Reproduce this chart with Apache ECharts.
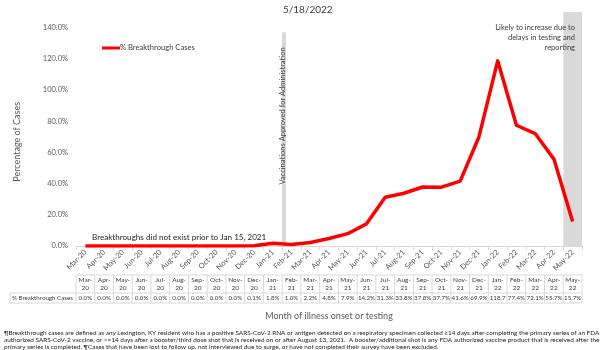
<!DOCTYPE html>
<html>
<head>
<meta charset="utf-8">
<script src="https://cdn.jsdelivr.net/npm/echarts@6/dist/echarts.min.js"></script>
<style>
  html, body { margin: 0; padding: 0; background: #ffffff; }
  #chart { width: 600px; height: 350px; }
</style>
</head>
<body>
<div id="chart"></div>
<script>
// Month of illness onset or testing
const months = [
  'Mar-20', 'Apr-20', 'May-20', 'Jun-20', 'Jul-20', 'Aug-20', 'Sep-20', 'Oct-20', 'Nov-20', 'Dec-20',
  'Jan-21', 'Feb-21', 'Mar-21', 'Apr-21', 'May-21', 'Jun-21', 'Jul-21', 'Aug-21', 'Sep-21', 'Oct-21',
  'Nov-21', 'Dec-21', 'Jan-22', 'Feb-22', 'Mar-22', 'Apr-22', 'May-22'
];

// % of cases that were breakthrough cases, by month
const breakthroughPct = [
  0.0, 0.0, 0.0, 0.0, 0.0, 0.0, 0.0, 0.0, 0.0, 0.1,
  1.8, 1.0, 2.2, 4.8, 7.9, 14.2, 31.3, 33.8, 37.8, 37.7,
  41.6, 69.9, 118.7, 77.4, 72.1, 55.7, 15.7
];

// Y axis ticks (percent)
const yTickStep = 20;
const yTickMax = 140;

// Shaded markers, in month-index units along the time axis
const vaccineApprovalMark = 11.1;          // vaccines approved for administration
const vaccineMarkTop = 137;                // height of the grey bar (percent scale)
const reportingLagBand = [26, 27];         // most recent month, still incomplete
const reportingLagTop = 150;

const seriesName = '% Breakthrough Cases';
const xAxisTitle = 'Month of illness onset or testing';
const yAxisTitle = 'Percentage of Cases';
const subtitle = '5/18/2022';
const preVaccineNote = 'Breakthroughs did not exist prior to Jan 15, 2021';
const lagNote = 'Likely to increase due to\ndelays in testing and\nreporting';
const vaccineNote = 'Vaccinations Approved for Administration';
const footnote = [
  '\u00b6Breakthrough cases are defined as any Lexington, KY resident who has a positive SARS-CoV-2 RNA or antigen detected on a respiratory specimen collected \u226514 days after completing the primary series of an FDA-',
  'authorized SARS-CoV-2 vaccine, or >=14 days after a booster/third dose shot that is received on or after August 13, 2021.  A booster/additional shot is any FDA authorized vaccine product that is received after the',
  'primary series is completed. \u00b6Cases that have been lost to follow up, not interviewed due to surge, or have not completed their survey have been excluded.'
];

const FONT = 'Lato, "Liberation Sans", sans-serif';
const GREY_TEXT = '#595959';
const DARK_TEXT = '#404040';
const BAND = '#d9d9d9';

const chart = echarts.init(document.getElementById('chart'), null, { renderer: 'canvas' });

chart.setOption({
  animation: false,
  backgroundColor: '#ffffff',
  textStyle: { fontFamily: FONT },
  grid: { left: 76, right: 18, top: 12, bottom: 104, containLabel: false },
  legend: {
    show: true,
    left: 97,
    top: 39,
    icon: 'rect',
    itemWidth: 18,
    itemHeight: 3,
    itemGap: 2,
    textStyle: { fontFamily: FONT, fontSize: 7.6, color: DARK_TEXT, padding: [0, 0, 0, -5] },
    data: [seriesName]
  },
  xAxis: [
    {
      type: 'category',
      data: months,
      boundaryGap: true,
      axisLine: { show: true, lineStyle: { color: BAND, width: 1 } },
      axisTick: { show: true, interval: 0, length: 4, lineStyle: { color: BAND } },
      axisLabel: {
        interval: 0, rotate: 45, fontSize: 7.5, color: GREY_TEXT, margin: 5, fontFamily: FONT
      },
      splitLine: { show: false }
    },
    {
      type: 'value',
      min: 0,
      max: months.length,
      show: false
    }
  ],
  yAxis: {
    type: 'value',
    min: 0,
    max: reportingLagTop,
    interval: yTickStep,
    axisLine: { show: false },
    axisTick: { show: false },
    splitLine: { show: false },
    axisLabel: {
      fontSize: 7.5, color: GREY_TEXT, margin: 8, fontFamily: FONT,
      formatter: v => (v % yTickStep === 0 && v <= yTickMax) ? v.toFixed(1) + '%' : ''
    }
  },
  series: [
    {
      name: 'markers',
      type: 'line',
      xAxisIndex: 1,
      data: [],
      silent: true,
      clip: false,
      z: 1,
      markArea: {
        silent: true,
        z: 1,
        itemStyle: { color: BAND },
        data: [[
          { coord: [reportingLagBand[0], 0] },
          { coord: [reportingLagBand[1], reportingLagTop] }
        ]]
      },
      markLine: {
        silent: true,
        z: 1,
        symbol: ['none', 'none'],
        lineStyle: { color: BAND, width: 4, type: 'solid' },
        label: { show: false },
        data: [[
          { coord: [vaccineApprovalMark, 0] },
          { coord: [vaccineApprovalMark, vaccineMarkTop] }
        ]]
      }
    },
    {
      name: seriesName,
      type: 'line',
      data: breakthroughPct,
      showSymbol: false,
      symbol: 'none',
      z: 10,
      lineStyle: { color: '#ff0000', width: 3.5, join: 'round' },
      itemStyle: { color: '#ff0000' }
    }
  ]
});

// Annotations and the data table beneath the axis, positioned from the axes
function buildOverlay() {
  const x0 = chart.convertToPixel({ xAxisIndex: 0 }, months[0]);
  const step = chart.convertToPixel({ xAxisIndex: 0 }, months[1]) - x0;
  const left = x0 - step / 2;
  const right = left + step * months.length;
  const yZero = chart.convertToPixel({ yAxisIndex: 0 }, 0);
  const yTop = chart.convertToPixel({ yAxisIndex: 0 }, yTickMax);
  const vx = chart.convertToPixel({ xAxisIndex: 1 }, vaccineApprovalMark);
  const lagRight = chart.convertToPixel({ xAxisIndex: 1 }, reportingLagBand[1]);

  const els = [];
  const line = (x1, y1, x2, y2) => els.push({
    type: 'line', silent: true, z: 50,
    shape: { x1, y1, x2, y2 },
    style: { stroke: BAND, lineWidth: 1 }
  });
  const text = (x, y, t, opts) => els.push({
    type: 'text', silent: true, x, y, z: 60,
    style: Object.assign({ text: t, fontFamily: FONT, fill: DARK_TEXT }, opts)
  });

  // data table
  const hTop = yZero + 29, hBot = yZero + 47, vBot = yZero + 57, labLeft = 10;
  line(left, hTop, right, hTop);
  line(labLeft, hBot, right, hBot);
  line(labLeft, vBot, right, vBot);
  line(labLeft, hBot, labLeft, vBot);
  for (let i = 0; i <= months.length; i++) {
    const x = left + i * step;
    line(x, hTop, x, vBot);
  }
  text(labLeft + 2, (hBot + vBot) / 2, seriesName, { fontSize: 6.2, align: 'left', verticalAlign: 'middle' });
  months.forEach((m, i) => {
    const cx = left + (i + 0.5) * step;
    const parts = m.split('-');
    text(cx, (hTop + hBot) / 2, parts[0] + '-\n' + parts[1], {
      fontSize: 6.5, align: 'center', verticalAlign: 'middle', lineHeight: 8.5
    });
    text(cx, (hBot + vBot) / 2, breakthroughPct[i].toFixed(1) + '%', {
      fontSize: 6.2, align: 'center', verticalAlign: 'middle',
      width: step + 1, overflow: 'truncate', ellipsis: ''
    });
  });

  // axis titles
  els.push({
    type: 'text', silent: true, x: 17, y: (yZero + yTop) / 2 + 5, rotation: Math.PI / 2, z: 60,
    style: { text: yAxisTitle, fontFamily: FONT, fontSize: 9, fill: GREY_TEXT, align: 'center', verticalAlign: 'middle' }
  });
  text((left + right) / 2, vBot + 13, xAxisTitle, { fontSize: 9, fill: GREY_TEXT, align: 'center', verticalAlign: 'middle' });

  // subtitle
  text(283, 9.5, subtitle, { fontSize: 10, fill: DARK_TEXT, align: 'left', verticalAlign: 'middle' });

  // notes on the plot
  text(92, yZero - 9, preVaccineNote, { fontSize: 8.1, fill: '#262626', align: 'left', verticalAlign: 'middle' });
  text(lagRight - 7, yTop - 5, lagNote, { fontSize: 7.5, fill: DARK_TEXT, align: 'right', verticalAlign: 'top', lineHeight: 10 });
  els.push({
    type: 'text', silent: true, x: vx - 1, y: yZero - 130, rotation: Math.PI / 2, z: 60,
    style: { text: vaccineNote, fontFamily: FONT, fontSize: 7.5, fill: DARK_TEXT, align: 'center', verticalAlign: 'middle' }
  });

  // footnote
  footnote.forEach((t, i) => {
    text(4, 333 + i * 7, t, { fontSize: 6.4, fill: '#262626', align: 'left', verticalAlign: 'middle' });
  });

  chart.setOption({ graphic: { elements: els } });
}

buildOverlay();
</script>
</body>
</html>
